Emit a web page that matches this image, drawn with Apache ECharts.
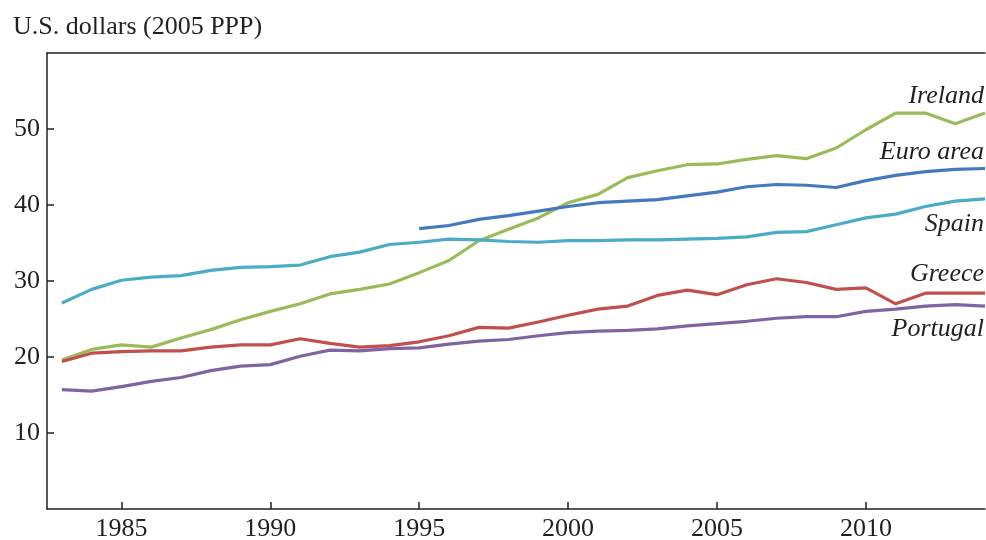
<!DOCTYPE html>
<html>
<head>
<meta charset="utf-8">
<title>GDP per capita</title>
<script src="https://cdn.jsdelivr.net/npm/echarts@6/dist/echarts.min.js"></script>
<style>
  html, body { margin: 0; padding: 0; background: #fff; }
  #chart { width: 986px; height: 540px; }
</style>
</head>
<body>
<div id="chart"></div>
<script>
// data
const years = [1983, 1984, 1985, 1986, 1987, 1988, 1989, 1990, 1991, 1992, 1993, 1994, 1995, 1996, 1997, 1998,
  1999, 2000, 2001, 2002, 2003, 2004, 2005, 2006, 2007, 2008, 2009, 2010, 2011, 2012, 2013, 2014]
const ireland = [19.6, 21.0, 21.6, 21.3, 22.5, 23.6, 24.9, 26.0, 27.0, 28.3, 28.9, 29.6, 31.1, 32.7, 35.3, 36.8,
  38.3, 40.3, 41.4, 43.6, 44.5, 45.3, 45.4, 46.0, 46.5, 46.1, 47.5, 49.9, 52.1, 52.1, 50.7, 52.1]
const euroArea = [null, null, null, null, null, null, null, null, null, null, null, null, 36.9, 37.3, 38.1, 38.6,
  39.2, 39.8, 40.3, 40.5, 40.7, 41.2, 41.7, 42.4, 42.7, 42.6, 42.3, 43.2, 43.9, 44.4, 44.7, 44.8]
const spain = [27.1, 28.9, 30.1, 30.5, 30.7, 31.4, 31.8, 31.9, 32.1, 33.2, 33.8, 34.8, 35.1, 35.5, 35.4, 35.2,
  35.1, 35.3, 35.3, 35.4, 35.4, 35.5, 35.6, 35.8, 36.4, 36.5, 37.4, 38.3, 38.8, 39.8, 40.5, 40.8]
const greece = [19.4, 20.5, 20.7, 20.8, 20.8, 21.3, 21.6, 21.6, 22.4, 21.8, 21.3, 21.5, 22.0, 22.8, 23.9, 23.8,
  24.6, 25.5, 26.3, 26.7, 28.1, 28.8, 28.2, 29.5, 30.3, 29.8, 28.9, 29.1, 27.0, 28.4, 28.4, 28.4]
const portugal = [15.7, 15.5, 16.1, 16.8, 17.3, 18.2, 18.8, 19.0, 20.1, 20.9, 20.8, 21.1, 21.2, 21.7, 22.1, 22.3,
  22.8, 23.2, 23.4, 23.5, 23.7, 24.1, 24.4, 24.7, 25.1, 25.3, 25.3, 26.0, 26.3, 26.7, 26.9, 26.7]
const xTicks = [1985, 1990, 1995, 2000, 2005, 2010]
const yTicks = [10, 20, 30, 40, 50]

const ink = '#231f20'
const serif = 'Liberation Serif'

// build one line series, with its name written near the end of the line
function makeLine(name, values, color, dy) {
  const data = years.map((y, i) => [y, values[i]])
  const last = data[data.length - 1]
  return {
    name: name,
    type: 'line',
    data: data,
    symbol: 'none',
    connectNulls: false,
    lineStyle: { color: color, width: 3.2 },
    itemStyle: { color: color },
    markPoint: {
      symbol: 'circle',
      symbolSize: 0,
      silent: true,
      itemStyle: { color: 'transparent' },
      label: {
        show: true,
        position: 'left',
        distance: 1,
        offset: [0, dy],
        formatter: name,
        color: ink,
        fontFamily: serif,
        fontStyle: 'italic',
        fontSize: 26
      },
      data: [{ coord: last }]
    }
  }
}

const chartInstance = echarts.init(document.getElementById('chart'))
const option = {
  animation: false,
  backgroundColor: '#fff',
  title: {
    text: 'U.S. dollars (2005 PPP)',
    left: 8,
    top: 9,
    textStyle: { color: ink, fontFamily: serif, fontSize: 26, fontWeight: 'normal' }
  },
  grid: { left: 47, right: 1, top: 53, bottom: 31, outerBoundsMode: 'none' },
  xAxis: [
    {
      type: 'value',
      min: 1982.5,
      max: 2014,
      axisLine: { show: true, lineStyle: { color: ink, width: 1.5 } },
      axisTick: { show: true, inside: true, length: 7, customValues: xTicks, lineStyle: { color: ink, width: 1.5 } },
      axisLabel: {
        customValues: xTicks,
        margin: 7,
        color: ink,
        fontFamily: serif,
        fontSize: 26,
        formatter: (v) => String(v)
      },
      splitLine: { show: false }
    },
    {
      // top frame line
      type: 'value',
      position: 'top',
      min: 1982.5,
      max: 2014,
      axisLine: { show: true, lineStyle: { color: ink, width: 1.5 } },
      axisTick: { show: false },
      axisLabel: { show: false },
      splitLine: { show: false }
    }
  ],
  yAxis: {
    type: 'value',
    min: 0,
    max: 60,
    interval: 10,
    axisLine: { show: true, lineStyle: { color: ink, width: 1.5 } },
    axisTick: { show: true, inside: true, length: 7, customValues: yTicks, lineStyle: { color: ink, width: 1.5 } },
    axisLabel: { customValues: yTicks, margin: 7, color: ink, fontFamily: serif, fontSize: 26 },
    splitLine: { show: false }
  },
  series: [
    makeLine('Ireland', ireland, '#9bbb59', -17),
    makeLine('Euro area', euroArea, '#4479bd', -16),
    makeLine('Spain', spain, '#4bacc6', 25),
    makeLine('Greece', greece, '#c0504d', -19),
    makeLine('Portugal', portugal, '#8064a2', 23)
  ]
}
chartInstance.setOption(option)
</script>
</body>
</html>
